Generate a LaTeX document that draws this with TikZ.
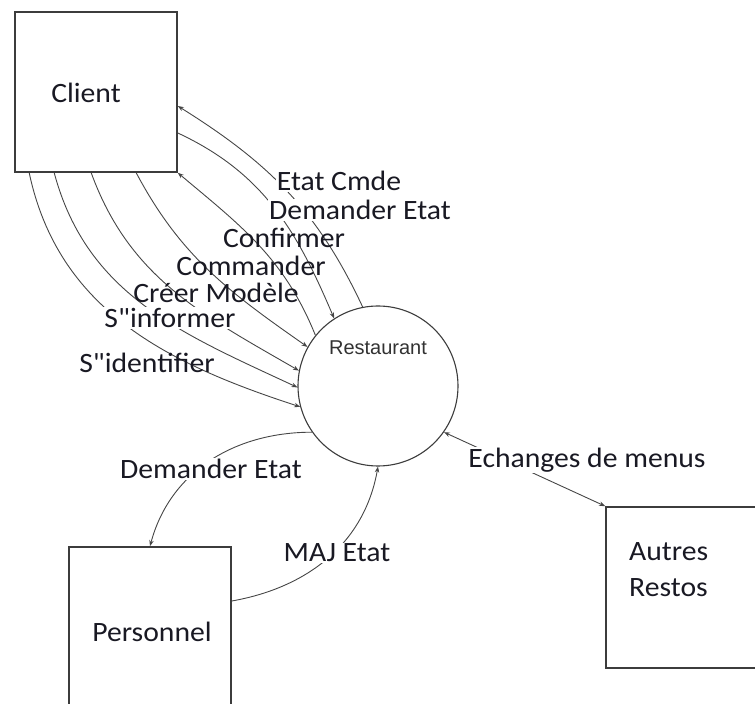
\documentclass[tikz,border=0pt]{standalone}
\usepackage{fontspec}
\setmainfont{Carlito}[Ligatures=TeXOff, FakeStretch=1.06]
\newfontfamily\arialf{Liberation Sans}
\usetikzlibrary{arrows.meta,calc}
\definecolor{boxc}{RGB}{60,60,60}
\definecolor{linec}{RGB}{70,70,70}
\definecolor{txtc}{RGB}{25,25,35}
\definecolor{restc}{RGB}{50,50,50}
\begin{document}
\begin{tikzpicture}[x=1pt,y=1pt,
  box/.style={draw=boxc, line width=1.6pt, minimum width=162pt, minimum height=160pt, inner sep=0pt},
  lbl/.style={font=\fontsize{28}{36}\selectfont, text=txtc, inner sep=1pt},
  cut/.style={lbl, fill=white},
  tip/.tip={Stealth[length=6pt,width=4.5pt]},
  flow/.style={draw=linec, line width=0.9pt, -tip},
  ]
\useasboundingbox (0,0) rectangle (755,704);
% boxes and process
\node[box] (client) at (96,612) {};
\node[lbl] (clienttxt) at (86,611) {Client};
\node[draw=boxc, line width=1.1pt, circle, minimum size=160pt, inner sep=0pt] (rest) at (378,318) {};
\node[font=\arialf\fontsize{20}{24}\selectfont, text=restc] (resttxt) at (378,356) {Restaurant};
\node[box] (personnel) at (150,77) {};
\node[lbl] (perstxt) at (152,72) {Personnel};
\node[box, minimum height=161pt] (autres) at (687,116.5) {};
\node[lbl, align=left, anchor=west] (autrestxt) at (628,134) {Autres\\Restos};
% flows client <-> restaurant
\draw[flow] (rest.101) to[out=115,in=-32] ([yshift=-14pt]client.east);
\draw[flow] ([yshift=-41pt]client.east) to[out=-25,in=113] (rest.123);
\draw[flow] (rest.141) to[out=112,in=-40] (client.south east);
\draw[flow] ([xshift=122pt]client.south west) to[out=-62,in=145] (rest.151);
\draw[flow] ([xshift=77pt]client.south west) to[out=-70,in=150] (rest.169);
\draw[flow] ([xshift=40pt]client.south west) to[out=-75,in=155] (rest.181);
\draw[flow] ([xshift=15pt]client.south west) to[out=-78,in=162] (rest.195);
% flows personnel / autres
\draw[flow] (rest.215) to[out=180,in=75] (personnel.north);
\draw[flow] ([yshift=26pt]personnel.east) to[out=10,in=-100] (rest.270);
\draw[flow, tip-tip] (rest.325) -- (autres.north west);
% labels
\node[cut] (l1) at (339,523) {Etat Cmde};
\node[cut] (l2) at (360,494) {Demander Etat};
\node[lbl] (l3) at (284,466) {Confirmer};
\node[lbl] (l4) at (251,438) {Commander};
\node[lbl] (l5) at (216,411) {Créer Modèle};
\node[cut] (l6) at (170,386) {S"informer};
\node[lbl] (l7) at (147,341) {S"identifier};
\node[cut] (l8) at (211,235) {Demander Etat};
\node[cut] (l9) at (337,151) {MAJ Etat};
\node[cut] (l10) at (587,244) {Echanges de menus};
\end{tikzpicture}
\end{document}
